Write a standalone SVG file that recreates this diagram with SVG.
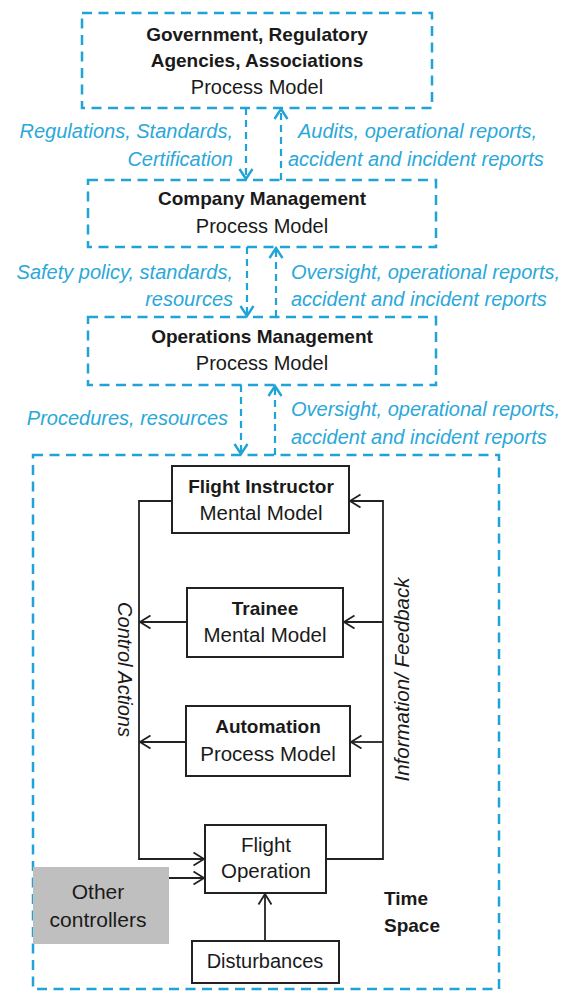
<svg xmlns="http://www.w3.org/2000/svg" width="571" height="992" viewBox="0 0 571 992">
<style>
  .dbox { fill: none; stroke: #1fa3d8; stroke-width: 2.5; stroke-dasharray: 10 6.5; }
  .dcon { fill: none; stroke: #1fa3d8; stroke-width: 2.2; stroke-dasharray: 7 5; }
  .box { fill: #ffffff; stroke: #222222; stroke-width: 2; }
  .con { fill: none; stroke: #222222; stroke-width: 1.8; }
  .t { font-family: "Liberation Sans", Arial, sans-serif; font-size: 20px; fill: #1a1a1a; text-anchor: middle; }
  .n { font-size: 20.5px; }
  .b { font-weight: bold; font-size: 19px; }
  .blue { font-family: "Liberation Sans", Arial, sans-serif; font-size: 20px; font-style: italic; fill: #2aa8d9; }
  .r { text-anchor: end; }
  .it { font-family: "Liberation Sans", Arial, sans-serif; font-size: 20px; font-style: italic; fill: #1a1a1a; text-anchor: middle; }
</style>
<defs>
  <marker id="ba" viewBox="0 0 14 16" refX="12" refY="8" markerWidth="14" markerHeight="16" orient="auto" markerUnits="userSpaceOnUse">
    <path d="M2,1.5 L12,8 L2,14.5" fill="none" stroke="#1fa3d8" stroke-width="2.4"/>
  </marker>
  <marker id="ka" viewBox="0 0 14 16" refX="12" refY="8" markerWidth="14" markerHeight="16" orient="auto" markerUnits="userSpaceOnUse">
    <path d="M1.5,1.5 L12,8 L1.5,14.5" fill="none" stroke="#222222" stroke-width="1.8"/>
  </marker>
</defs>

<g id="gov">
  <rect class="dbox" x="82" y="13" width="350" height="95"/>
  <text class="t b" x="257" y="41">Government, Regulatory</text>
  <text class="t b" x="257" y="67">Agencies, Associations</text>
  <text class="t" x="257" y="94">Process Model</text>
</g>
<g id="company">
  <rect class="dbox" x="88" y="180" width="348" height="67"/>
  <text class="t b" x="262" y="205">Company Management</text>
  <text class="t" x="262" y="233">Process Model</text>
</g>
<g id="operations">
  <rect class="dbox" x="88" y="317" width="348" height="68"/>
  <text class="t b" x="262" y="343">Operations Management</text>
  <text class="t" x="262" y="370">Process Model</text>
</g>
<g id="timespace">
  <rect class="dbox" x="33" y="455" width="466" height="534"/>
  <text class="t b" x="384" y="905" style="text-anchor:start">Time</text>
  <text class="t b" x="384" y="932" style="text-anchor:start">Space</text>
</g>
<g id="instructor">
  <rect class="box" x="172" y="466" width="177" height="67"/>
  <text class="t b" x="261" y="493">Flight Instructor</text>
  <text class="t n" x="261" y="520">Mental Model</text>
</g>
<g id="trainee">
  <rect class="box" x="187" y="588" width="156" height="69"/>
  <text class="t b" x="265" y="615">Trainee</text>
  <text class="t n" x="265" y="642">Mental Model</text>
</g>
<g id="automation">
  <rect class="box" x="186" y="706" width="164" height="70"/>
  <text class="t b" x="268" y="733">Automation</text>
  <text class="t n" x="268" y="761">Process Model</text>
</g>
<g id="flightop">
  <rect class="box" x="205" y="825" width="121" height="68"/>
  <text class="t n" x="266" y="852">Flight</text>
  <text class="t n" x="266" y="878">Operation</text>
</g>
<g id="others">
  <rect x="33" y="867" width="136" height="77" fill="#bfbfbf"/>
  <text class="t" x="98" y="899" style="font-size:21px">Other</text>
  <text class="t" x="98" y="927" style="font-size:21px">controllers</text>
</g>
<g id="disturbances">
  <rect class="box" x="192" y="941" width="147" height="42"/>
  <text class="t" x="265" y="968">Disturbances</text>
</g>

<g id="connectors">
  <path class="dcon" d="M246,108 V179" marker-end="url(#ba)"/>
  <path class="dcon" d="M281,180 V109" marker-end="url(#ba)"/>
  <path class="dcon" d="M247,247 V316" marker-end="url(#ba)"/>
  <path class="dcon" d="M276,317 V248" marker-end="url(#ba)"/>
  <path class="dcon" d="M241,385 V454" marker-end="url(#ba)"/>
  <path class="dcon" d="M275,455 V386" marker-end="url(#ba)"/>

  <path class="con" d="M172,501 H139 V859 H204" marker-end="url(#ka)"/>
  <path class="con" d="M187,622 H140" marker-end="url(#ka)"/>
  <path class="con" d="M186,742 H140" marker-end="url(#ka)"/>
  <path class="con" d="M326,859 H383 V501 H350" marker-end="url(#ka)"/>
  <path class="con" d="M383,622 H344" marker-end="url(#ka)"/>
  <path class="con" d="M383,742 H351" marker-end="url(#ka)"/>
  <path class="con" d="M169,878 H204" marker-end="url(#ka)"/>
  <path class="con" d="M265,941 V894" marker-end="url(#ka)"/>
</g>

<g id="labels">
  <text class="blue r" x="233" y="138">Regulations, Standards,</text>
  <text class="blue r" x="233" y="166">Certification</text>
  <text class="blue" x="298" y="138">Audits, operational reports,</text>
  <text class="blue" x="288" y="166">accident and incident reports</text>
  <text class="blue r" x="233" y="279">Safety policy, standards,</text>
  <text class="blue r" x="233" y="306">resources</text>
  <text class="blue" x="291" y="279">Oversight, operational reports,</text>
  <text class="blue" x="291" y="306">accident and incident reports</text>
  <text class="blue r" x="228" y="425">Procedures, resources</text>
  <text class="blue" x="291" y="416">Oversight, operational reports,</text>
  <text class="blue" x="291" y="444">accident and incident reports</text>
  <text class="it" transform="translate(118,669.5) rotate(90)">Control Actions</text>
  <text class="it" transform="translate(409,679.5) rotate(-90)" style="font-size:20.5px">Information/ Feedback</text>
</g>
</svg>
